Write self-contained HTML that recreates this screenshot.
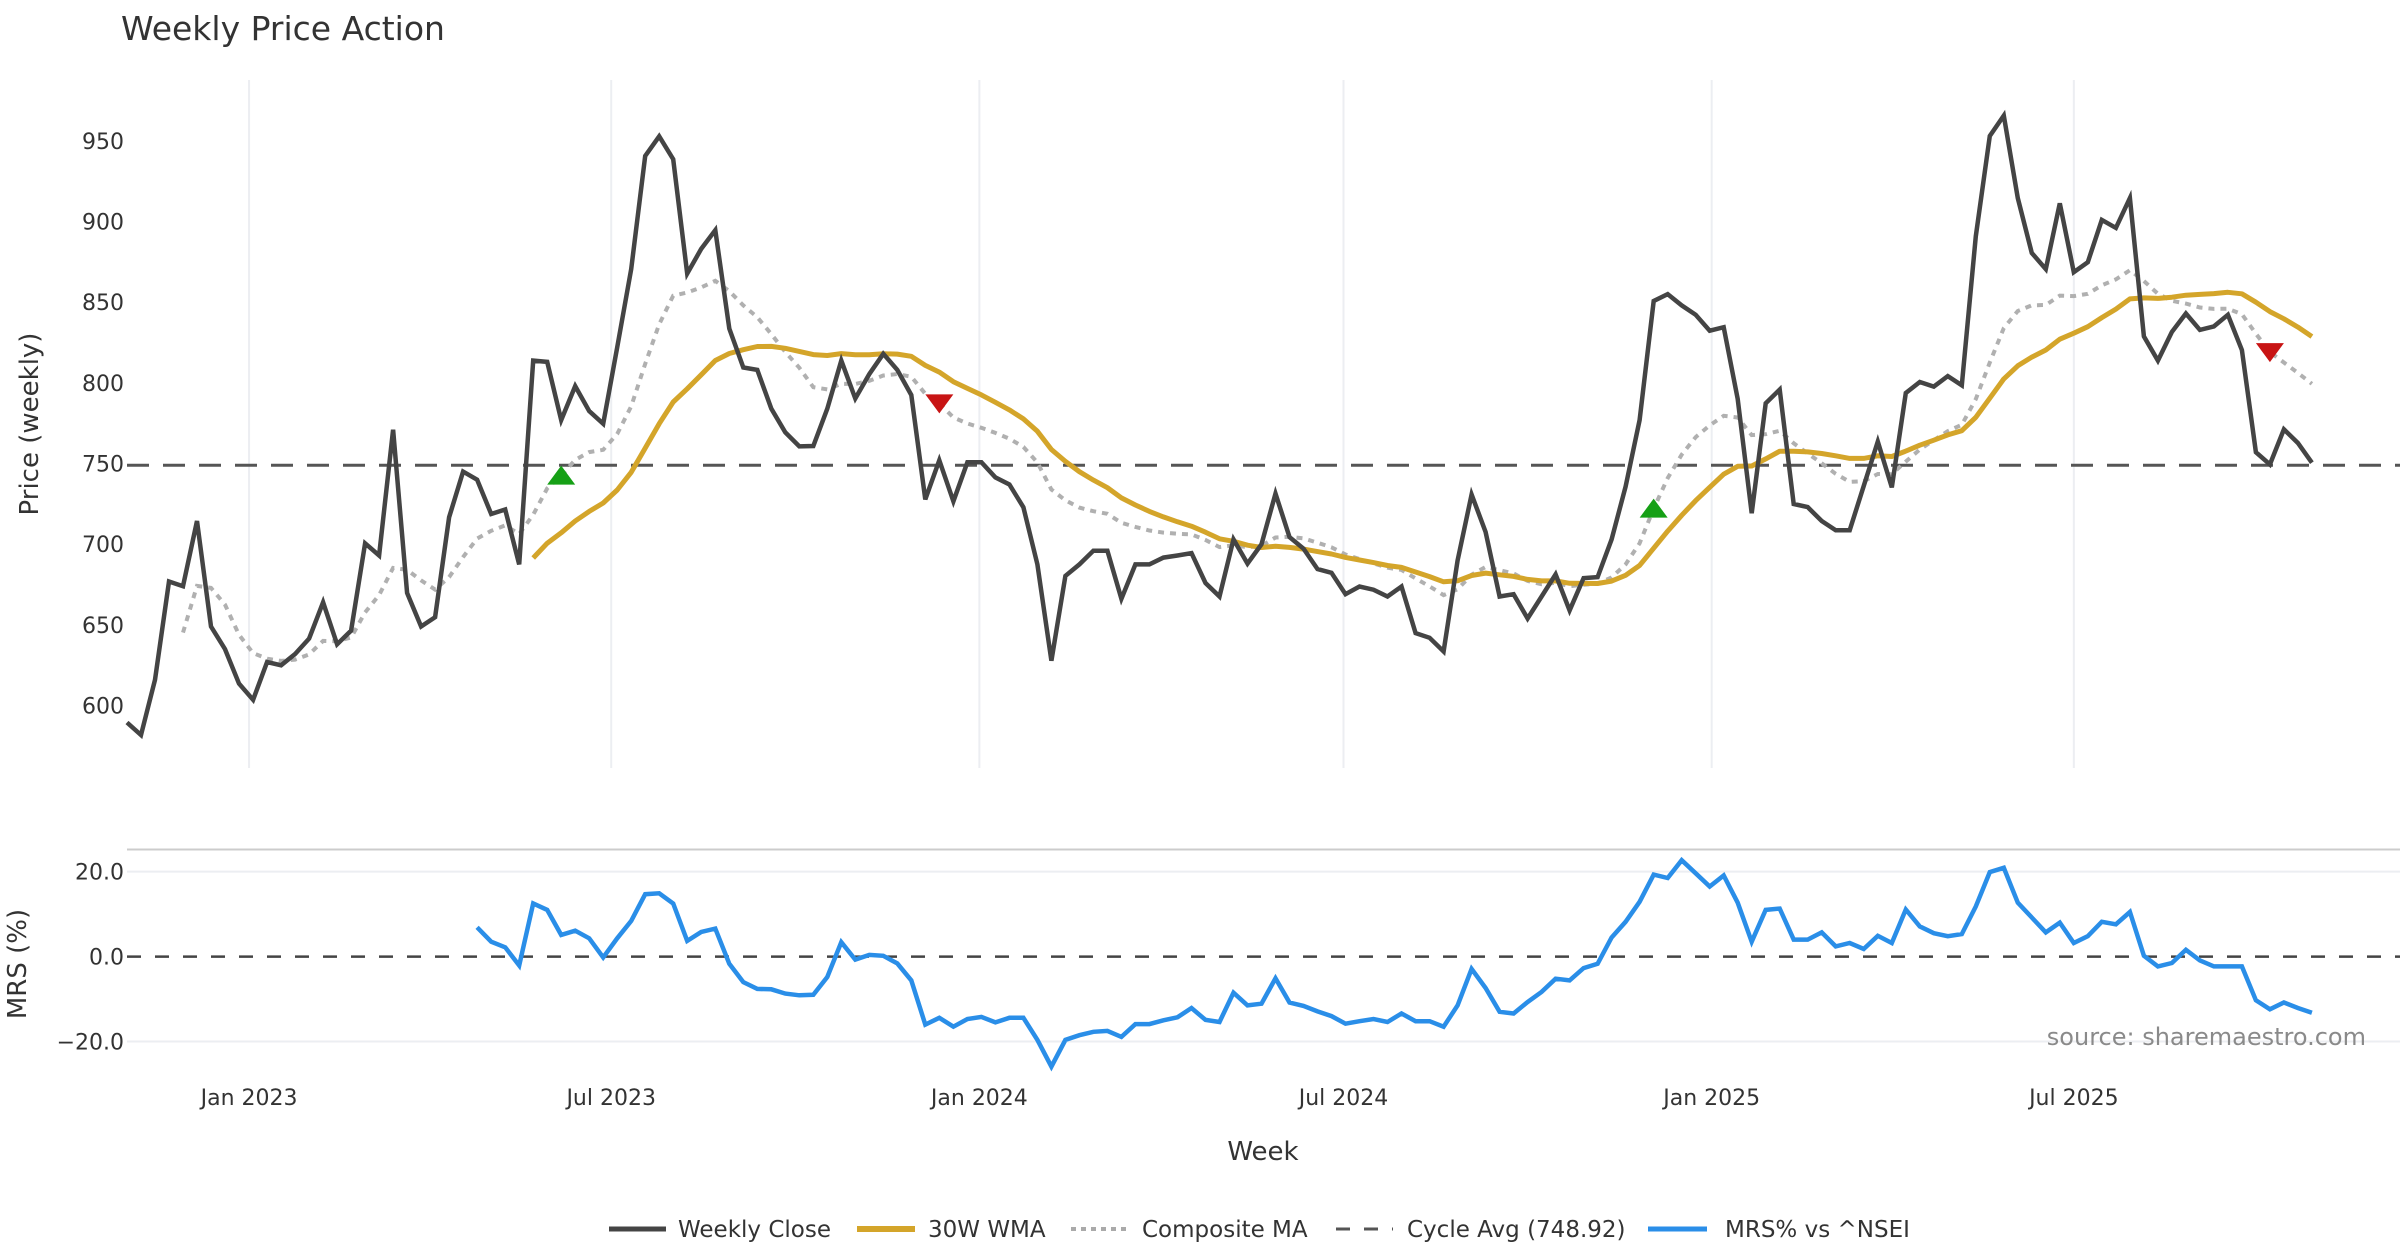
<!DOCTYPE html>
<html><head><meta charset="utf-8"><style>
html,body{margin:0;padding:0;background:#fff;}
svg{display:block;font-family:"DejaVu Sans","Liberation Sans",sans-serif;}
</style></head><body>
<svg id="chart" width="2400" height="1260" viewBox="0 0 2400 1260" xmlns="http://www.w3.org/2000/svg">
<text x="121" y="40" font-size="33" fill="#333">Weekly Price Action</text>
<g id="grid"></g><g id="series"></g><g id="axes"></g>
<text transform="translate(38,424) rotate(-90)" text-anchor="middle" font-size="26" fill="#333">Price (weekly)</text>
<text transform="translate(26,964) rotate(-90)" text-anchor="middle" font-size="26" fill="#333">MRS (%)</text>
<text x="1263" y="1160" text-anchor="middle" font-size="26" fill="#333">Week</text>
<text x="2366" y="1045" text-anchor="end" font-size="24" fill="#8a8a8a">source: sharemaestro.com</text>
<g id="legend">
 <g><line x1="609" y1="1229" x2="666" y2="1229" stroke="#444" stroke-width="5"/><text x="678" y="1237" font-size="23" fill="#333">Weekly Close</text></g>
 <g><line x1="857" y1="1229" x2="915" y2="1229" stroke="#d4a52a" stroke-width="6"/><text x="928" y="1237" font-size="23" fill="#333">30W WMA</text></g>
 <g><line x1="1071" y1="1229" x2="1130" y2="1229" stroke="#aaa" stroke-width="4" stroke-dasharray="5,5"/><text x="1142" y="1237" font-size="23" fill="#333">Composite MA</text></g>
 <g><line x1="1336" y1="1229" x2="1393" y2="1229" stroke="#555" stroke-width="3" stroke-dasharray="14,14"/><text x="1407" y="1237" font-size="23" fill="#333">Cycle Avg (748.92)</text></g>
 <g><line x1="1648" y1="1229" x2="1707" y2="1229" stroke="#2a8ee8" stroke-width="5"/><text x="1725" y="1237" font-size="23" fill="#333">MRS% vs ^NSEI</text></g>
</g>
</svg>
<script>
const closes = [589.5,581.8,616,676.9,674,714.4,649,635,613.6,603.6,
627,625,632,641.5,664,638,646.5,700.6,693,771,
669.8,649,654.8,716.7,745,740,718.7,721.5,687.5,813.8,
813,776.9,798,782.5,774.6,822,870.5,940.6,952.8,938.6,
867.7,883,894.6,833.6,809.5,808,784,769.3,760.6,760.9,
784,813.8,790.3,805.4,818,808,792.5,727.8,752,726.6,
750.8,750.8,741.4,737,722.9,687.5,627.8,680.4,687.5,696,
696,666.2,687.5,687.5,691.7,693,694.5,676,667.6,703,
688,700,731.4,704.4,697.3,684.6,682.3,669,673.8,671.8,
667.6,673.8,644.9,642,633.5,690,730.8,707.6,667.6,669,
654,667.6,681.3,659,679,679.6,703,735.7,776.9,850.7,
855,848,842.2,832.3,834.5,790,719.2,787.3,795.8,724.9,
723,714.4,708.7,708.7,736,763.6,735.2,793.7,800.5,797.7,
804.2,798.5,890.8,953,965.6,914.5,880.5,870.5,911.3,868.6,
874.8,901,896,914.5,828.8,813.8,831.6,843,832.8,835,
842.2,820.3,757,749.4,771.2,762.7,750.5];
const mrsStart = 25;
const mrs = [6.9,3.5,2.2,-2.1,12.5,11.0,5.1,6.1,4.3,-0.2,
4.3,8.4,14.7,14.9,12.5,3.7,5.8,6.6,-1.7,-6.0,
-7.6,-7.7,-8.7,-9.1,-9.0,-4.8,3.4,-0.7,0.4,0.2,
-1.6,-5.6,-16.0,-14.4,-16.5,-14.7,-14.2,-15.5,-14.4,-14.4,
-19.6,-25.9,-19.6,-18.5,-17.7,-17.5,-18.9,-15.9,-15.9,-15.0,
-14.3,-12.1,-14.9,-15.4,-8.5,-11.5,-11.1,-5.1,-10.8,-11.6,
-12.9,-14.0,-15.8,-15.2,-14.7,-15.4,-13.4,-15.2,-15.2,-16.5,
-11.5,-2.9,-7.4,-13.0,-13.4,-10.7,-8.3,-5.2,-5.6,-2.7,
-1.7,4.5,8.2,12.9,19.3,18.5,22.7,19.6,16.5,19.1,
12.7,3.5,11.0,11.3,4.0,4.0,5.7,2.4,3.2,1.8,
4.9,3.2,11.1,7.1,5.5,4.8,5.3,11.8,19.9,20.9,
12.7,9.2,5.7,8.0,3.2,4.8,8.2,7.6,10.5,0.2,
-2.3,-1.5,1.6,-0.9,-2.3,-2.3,-2.3,-10.3,-12.4,-10.8,
-12.1,-13.2];
const cycleAvg = 748.92;
const buySignals = [31,109];
const sellSignals = [58,153];
const priceTicks = [600,650,700,750,800,850,900,950];
const mrsTicks = [-20,0,20];
const mrsTickLabels = ["\u221220.0","0.0","20.0"];
const dateTicks = ["2023-01-01","2023-07-01","2024-01-01","2024-07-01","2025-01-01","2025-07-01"];
const dateTickLabels = ["Jan 2023","Jul 2023","Jan 2024","Jul 2024","Jan 2025","Jul 2025"];
const startDate = "2022-11-01";

const NS="http://www.w3.org/2000/svg";
const X0=127, WK=14.006;
const xIdx = i => X0 + i*WK;
const xDate = d => X0 + (new Date(d) - new Date(startDate))/86400000/7*WK;
const yP = v => 140.8 + (950 - v)*1.6137;
const yM = v => 956.6 - v*4.2475;
function mk(tag, attrs, parent){const e=document.createElementNS(NS,tag);for(const k in attrs)e.setAttribute(k,attrs[k]);parent.appendChild(e);return e;}
const grid=document.getElementById('grid'), ser=document.getElementById('series'), ax=document.getElementById('axes');

function wma(n,i){ if(i<n-1) return null; let s=0,w=0; for(let k=0;k<n;k++){s+=closes[i-n+1+k]*(k+1);w+=k+1;} return s/w; }
const wma30 = closes.map((_,i)=>wma(30,i));
const composite = closes.map((_,i)=>{const v=[5,10,20,30,50].map(n=>wma(n,i)).filter(x=>x!==null); return v.length? v.reduce((a,b)=>a+b,0)/v.length : null;});

dateTicks.forEach((d,k)=>{
  const x=xDate(d);
  const g=mk('line',{x1:x,x2:x,y1:80,y2:768,stroke:'#eceef2','stroke-width':2},grid);
   
  const t=mk('text',{x:x,y:1105,'text-anchor':'middle','font-size':22,fill:'#333'},ax);
  t.textContent=dateTickLabels[k];
   
});
priceTicks.forEach(v=>{
  const t=mk('text',{x:124,y:yP(v)+8,'text-anchor':'end','font-size':22,fill:'#333'},ax);
  t.textContent=v;
   
});
const sep=mk('line',{x1:127,x2:2400,y1:849.5,y2:849.5,stroke:'#ccc','stroke-width':2},grid);
 
mrsTicks.forEach((v,k)=>{
  if(v!==0){const l=mk('line',{x1:127,x2:2400,y1:yM(v),y2:yM(v),stroke:'#eceef2','stroke-width':2},grid);
   }
  const t=mk('text',{x:124,y:yM(v)+8,'text-anchor':'end','font-size':22,fill:'#333'},ax);
  t.textContent=mrsTickLabels[k];
   
});
const z=mk('line',{x1:127,x2:2400,y1:yM(0),y2:yM(0),stroke:'#444','stroke-width':2.5,'stroke-dasharray':'14,14'},ser);
 

function path(vals, off, yf){let d='';vals.forEach((v,i)=>{if(v===null)return;d+=(d?'L':'M')+xIdx(i+off).toFixed(1)+','+yf(v).toFixed(1);});return d;}
const cyc=mk('line',{x1:127,x2:2400,y1:yP(cycleAvg),y2:yP(cycleAvg),stroke:'#555','stroke-width':3,'stroke-dasharray':'22,14'},ser);
 
const pc=mk('path',{d:path(composite,0,yP),fill:'none',stroke:'#b0b0b0','stroke-width':4,'stroke-dasharray':'6,6'},ser);
 
const pw=mk('path',{d:path(wma30,0,yP),fill:'none',stroke:'#d4a52a','stroke-width':5,'stroke-linejoin':'round'},ser);
 
const pcl=mk('path',{d:path(closes,0,yP),fill:'none',stroke:'#444','stroke-width':4.5,'stroke-linejoin':'miter'},ser);
 
const pm=mk('path',{d:path(mrs,mrsStart,yM),fill:'none',stroke:'#2a8ee8','stroke-width':4.5},ser);
 

buySignals.forEach(i=>{const x=xIdx(i),y=yP(composite[i]);
  const t=mk('polygon',{points:`${x-14},${y+9} ${x+14},${y+9} ${x},${y-10}`,fill:'#16a016'},ser);
   });
sellSignals.forEach(i=>{const x=xIdx(i),y=yP(composite[i]);
  const t=mk('polygon',{points:`${x-14},${y-9} ${x+14},${y-9} ${x},${y+10}`,fill:'#c81414'},ser);
   });
</script>
</body></html>
